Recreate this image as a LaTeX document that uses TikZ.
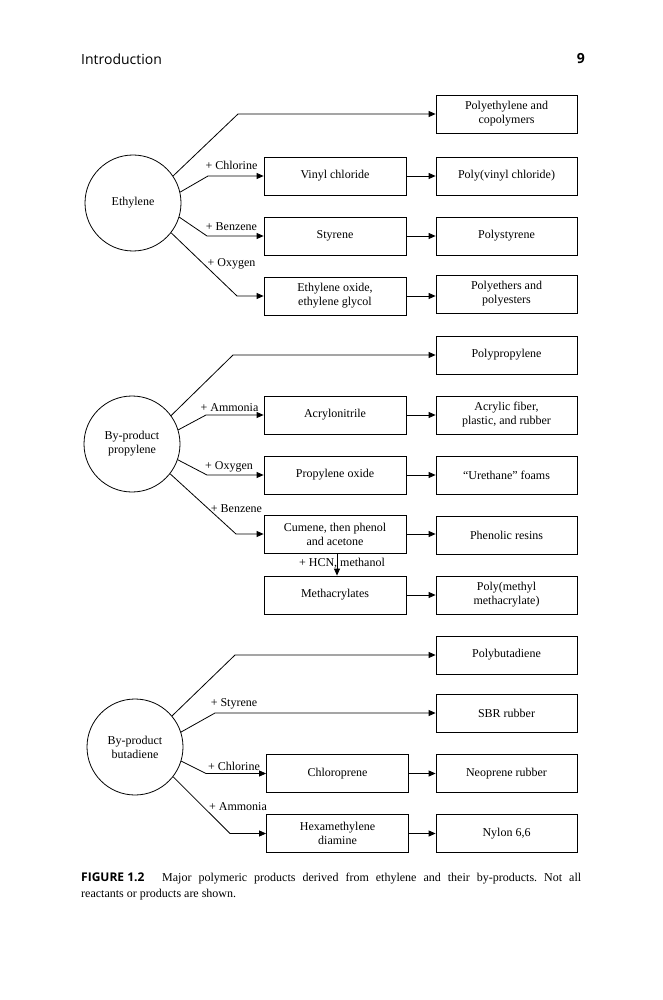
\documentclass[tikz,border=0pt]{standalone}
\usepackage{fontspec}
\setmainfont{Liberation Serif}
\newfontfamily\hsans{Open Sans}
\usetikzlibrary{arrows.meta}
\newcommand{\diag}{\fontsize{12}{14}\selectfont}
\frenchspacing
\begin{document}
\begin{tikzpicture}[x=1pt,y=-1pt,
  every node/.style={font=\diag},
  bx/.style={draw, line width=0.8pt, minimum width=142pt, minimum height=38pt, align=center, inner sep=1pt},
  rbx/.style={bx, minimum width=141pt},
  circ/.style={draw, circle, line width=0.8pt, minimum size=96pt, align=center, inner sep=0pt},
  ln/.style={line width=0.8pt},
  arr/.style={ln, -{Triangle[length=7pt,width=6pt]}},
  lbl/.style={inner sep=0pt, text height=8pt, text depth=0pt}]
\useasboundingbox (0,0) rectangle (662,1000);
% header
\node[anchor=west, font=\hsans\fontsize{14}{16}\selectfont, inner sep=0pt] (hdr) at (81,59) {Introduction};
\node[anchor=east, font=\hsans\bfseries\fontsize{14}{16}\selectfont, inner sep=0pt] (pg) at (585,59) {9};

% ===== Ethylene =====
\node[circ] (eth) at (133,203) {Ethylene};
\node[rbx] (pe) at (506.5,114) {Polyethylene and\\copolymers};
\node[bx] (vc) at (335,176) {Vinyl chloride};
\node[rbx] (pvc) at (506.5,176) {Poly(vinyl chloride)};
\node[bx] (sty) at (335,236) {Styrene};
\node[rbx] (ps) at (506.5,236) {Polystyrene};
\node[bx] (eo) at (335,296) {Ethylene oxide,\\ethylene glycol};
\node[rbx] (pes) at (506.5,294) {Polyethers and\\polyesters};
\draw[arr] (eth.34) -- (238,114) -- (pe.west);
\draw[arr] (eth.13) -- (208,176) -- (vc.west);
\draw[arr] (eth.-17) -- (207,236) -- (sty.west);
\draw[arr] (eth.-38) -- (237,296) -- (eo.west);
\draw[arr] (vc.east) -- (pvc.west);
\draw[arr] (sty.east) -- (ps.west);
\draw[arr] (eo.east) -- (eo.east -| pes.west);
\node[lbl] (l1) at (231.5,166) {+ Chlorine};
\node[lbl] (l2) at (231.5,226) {+ Benzene};
\node[lbl] (l3) at (231.5,262) {+ Oxygen};

% ===== Propylene =====
\node[circ] (pro) at (132,444) {By-product\\propylene};
\node[rbx] (pp) at (506.5,355) {Polypropylene};
\node[bx] (acn) at (335,415) {Acrylonitrile};
\node[rbx] (acf) at (506.5,415) {Acrylic fiber,\\plastic, and rubber};
\node[bx] (po) at (335,475) {Propylene oxide};
\node[rbx] (uf) at (506.5,475) {\textquotedblleft Urethane\textquotedblright\ foams};
\node[bx] (cum) at (335,534) {Cumene, then phenol\\and acetone};
\node[rbx] (phr) at (506.5,535) {Phenolic resins};
\node[bx] (meth) at (335,595) {Methacrylates};
\node[rbx] (pmma) at (506.5,595) {Poly(methyl\\methacrylate)};
\draw[arr] (pro.36) -- (233,355) -- (pp.west);
\draw[arr] (pro.17) -- (206,415) -- (acn.west);
\draw[arr] (pro.-19) -- (207,475) -- (po.west);
\draw[arr] (pro.-38) -- (236,534) -- (cum.west);
\draw[arr] (acn.east) -- (acf.west);
\draw[arr] (po.east) -- (uf.west);
\draw[arr] (cum.east) -- (cum.east -| phr.west);
\draw[arr] (meth.east) -- (pmma.west);
\draw[arr] ([xshift=2pt]cum.south) -- ([xshift=2pt]meth.north);
\node[lbl] (l4) at (229.5,407) {+ Ammonia};
\node[lbl] (l5) at (229,465) {+ Oxygen};
\node[lbl] (l6) at (236.5,508) {+ Benzene};
\node[lbl] (l7) at (342,562) {+ HCN, methanol};

% ===== Butadiene =====
\node[circ] (but) at (135,747) {By-product\\butadiene};
\node[rbx] (pb) at (506.5,655) {Polybutadiene};
\node[rbx] (sbr) at (506.5,713) {SBR rubber};
\node[bx] (cp) at (337.5,773.5) {Chloroprene};
\node[rbx] (neo) at (506.5,773.5) {Neoprene rubber};
\node[bx] (hmd) at (337.5,833.5) {Hexamethylene\\diamine};
\node[rbx] (nyl) at (506.5,833.5) {Nylon 6,6};
\draw[arr] (but.40) -- (235,655) -- (pb.west);
\draw[arr] (but.18) -- (215,713) -- (sbr.west);
\draw[arr] (but.-17) -- (206,773.5) -- (cp.west);
\draw[arr] (but.-38) -- (230,833.5) -- (hmd.west);
\draw[arr] (cp.east) -- (neo.west);
\draw[arr] (hmd.east) -- (nyl.west);
\node[lbl] (l8) at (234,702) {+ Styrene};
\node[lbl] (l9) at (234,766) {+ Chlorine};
\node[lbl] (l10) at (238,806) {+ Ammonia};

% caption
\node[anchor=base west, inner sep=0pt, font=\hsans\bfseries\fontsize{12}{14}\selectfont] (fig) at (81,881) {FIGURE 1.2};
\node[anchor=base west, inner sep=0pt] (cap1) at (162,881) {\makebox[419pt][s]{Major polymeric products derived from ethylene and their by-products. Not all}};
\node[anchor=base west, inner sep=0pt] (cap2) at (81,897) {reactants or products are shown.};
\end{tikzpicture}
\end{document}
